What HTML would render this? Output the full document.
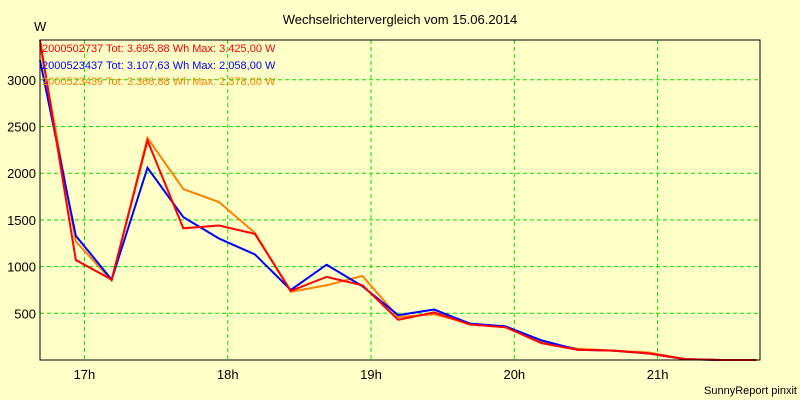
<!DOCTYPE html>
<html><head><meta charset="utf-8"><style>
body{margin:0;background:#ffffc8;font-family:"Liberation Sans",sans-serif}
svg{display:block}
</style></head><body>
<svg id="c" width="800" height="400" xmlns="http://www.w3.org/2000/svg">
<rect x="0" y="0" width="800" height="400" fill="#ffffc8"/>
<text x="400" y="24" text-anchor="middle" font-size="13" fill="#000">Wechselrichtervergleich vom 15.06.2014</text>
<text x="34" y="31" font-size="13" fill="#000">W</text>
<text x="797" y="394" text-anchor="end" font-size="11" fill="#000">SunnyReport pinxit</text>
<g id="grid"></g><g id="series"></g><g id="axes"></g>
<rect x="40" y="40" width="720" height="320" fill="none" stroke="#000"/>
<g font-size="11">
<text x="42" y="52" fill="#ff0000">2000502737 Tot: 3.695,88 Wh Max: 3.425,00 W</text>
<text x="42" y="69" fill="#0000ff">2000523437 Tot: 3.107,63 Wh Max: 2.058,00 W</text>
<text x="42" y="85" fill="#ff8000">2000523439 Tot: 3.368,88 Wh Max: 2.378,00 W</text>
</g>
</svg>
<script>
const times=[16.69,16.94,17.19,17.44,17.69,17.94,18.19,18.44,18.69,18.94,19.19,19.44,19.69,19.94,20.19,20.44,20.69,20.94,21.19,21.44,21.69];
const seriesRed=[3425,1070,860,2350,1410,1440,1350,740,890,800,430,510,380,350,180,110,100,70,10,0,0];
const seriesBlue=[3210,1330,860,2058,1530,1300,1130,750,1020,790,480,540,390,360,210,110,100,70,10,0,0];
const seriesOrange=[3378,1270,850,2378,1830,1690,1360,730,800,900,460,490,390,350,190,120,100,80,10,0,0];
const yTicks=[500,1000,1500,2000,2500,3000];
const xTicks=[17,18,19,20,21];
const xTickLabels=["17h","18h","19h","20h","21h"];
const NS="http://www.w3.org/2000/svg";
const xs=h=>40+(h-16.69)*143.3;
const ys=v=>360-v*0.0934;
function mk(tag,attrs,parent){const e=document.createElementNS(NS,tag);for(const k in attrs)e.setAttribute(k,attrs[k]);parent.appendChild(e);return e;}
const grid=document.getElementById('grid'),axes=document.getElementById('axes'),ser=document.getElementById('series');
yTicks.forEach(v=>{
 const l=mk('line',{x1:40,x2:760,y1:ys(v),y2:ys(v),stroke:'#00e000','stroke-dasharray':'4,3'},grid);
 
 
 const t=mk('text',{x:36,y:ys(v)+5,'text-anchor':'end','font-size':'13'},axes);t.textContent=v;
 
 
});
xTicks.forEach((h,i)=>{
 const l=mk('line',{x1:xs(h),x2:xs(h),y1:40,y2:360,stroke:'#00e000','stroke-dasharray':'4,3'},grid);
 
 
 const t=mk('text',{x:xs(h),y:379,'text-anchor':'middle','font-size':'13'},axes);t.textContent=xTickLabels[i];
 
 
});
[[seriesOrange,'#ff8000','series-orange'],[seriesBlue,'#0000ff','series-blue'],[seriesRed,'#ff0000','series-red']].forEach(([d,c,n])=>{
 const p=mk('polyline',{points:d.map((v,i)=>xs(times[i])+','+ys(v)).join(' '),fill:'none',stroke:c,'stroke-width':2},ser);
 
 
});
</script>
</body></html>
